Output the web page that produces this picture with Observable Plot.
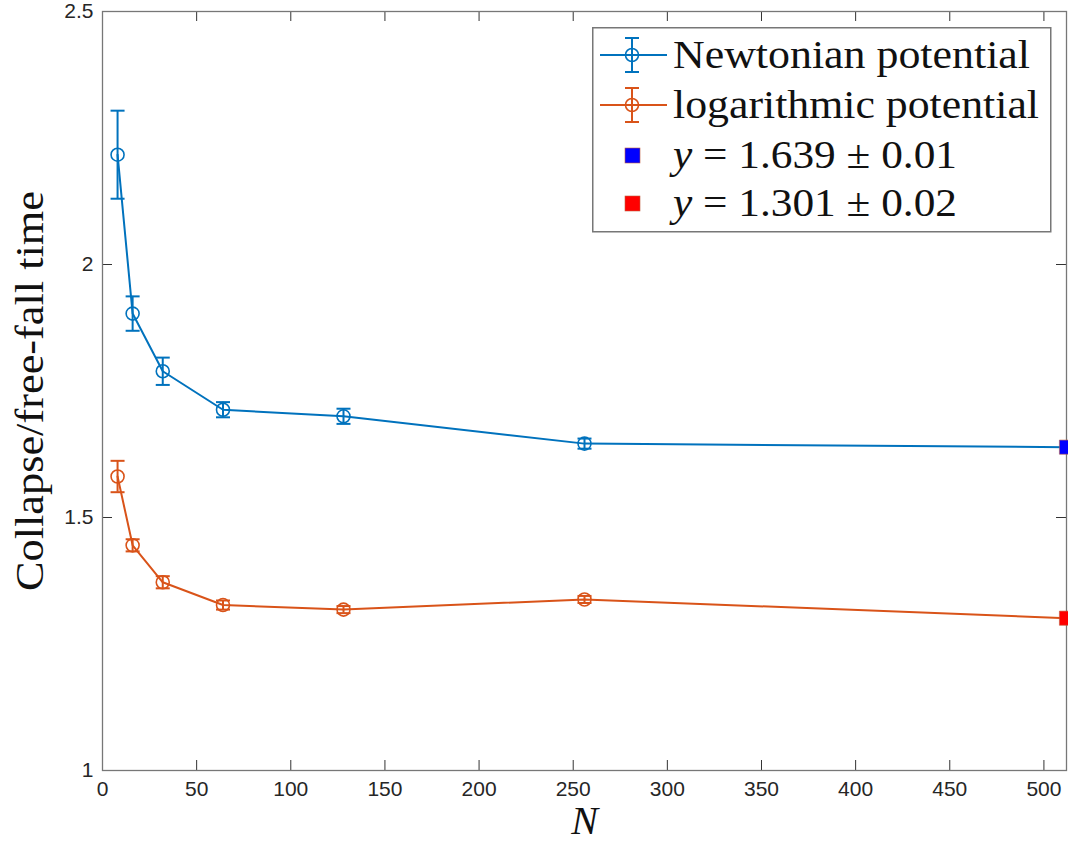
<!DOCTYPE html>
<html>
<head>
<meta charset="utf-8">
<script src="https://cdn.jsdelivr.net/npm/d3@7"></script>
<script src="https://cdn.jsdelivr.net/npm/@observablehq/plot@0.6"></script>
<style>
  html, body { margin: 0; padding: 0; background: #fff; }
  #wrap { position: relative; width: 1068px; height: 846px; }
  #legend { position: absolute; left: 592px; top: 27px; }
</style>
</head>
<body>
<div id="wrap"></div>
<script>
// ---- data ----
const N = [8, 16, 32, 64, 128, 256];
const newtonY = [2.217, 1.903, 1.789, 1.713, 1.700, 1.646];
const newtonErr = [0.087, 0.034, 0.027, 0.015, 0.015, 0.010];
const logY = [1.581, 1.445, 1.372, 1.327, 1.318, 1.338];
const logErr = [0.031, 0.012, 0.012, 0.009, 0.007, 0.007];
const limitN = 512;
const limitY = [1.639, 1.301];
const seriesNames = ["Newtonian potential", "logarithmic potential"];
const limitLabels = [["1.639", "0.01"], ["1.301", "0.02"]];
const xTicks = [0, 50, 100, 150, 200, 250, 300, 350, 400, 450, 500];
const yTicks = [1, 1.5, 2, 2.5];
const yLabel = "Collapse/free-fall time";
const xLabel = "N";

// ---- styles ----
const colors = ["#0072BD", "#D95319"];
const limitColors = ["#0000FF", "#FF0000"];
const W = 1068, H = 846;
const mL = 102, mR = 2, mT = 11, mB = 76;
const fw = W - mL - mR, fh = H - mT - mB;
const tickLen = 10;
const serif = "'Liberation Serif', 'Times New Roman', serif";

const rows = [];
N.forEach((n, i) => {
  rows.push({series: 0, N: n, y: newtonY[i], e: newtonErr[i]});
  rows.push({series: 1, N: n, y: logY[i], e: logErr[i]});
});
const lineRows = [
  ...N.map((n, i) => ({series: 0, N: n, y: newtonY[i]})), {series: 0, N: limitN, y: limitY[0]},
  ...N.map((n, i) => ({series: 1, N: n, y: logY[i]})), {series: 1, N: limitN, y: limitY[1]}
];
const limits = limitY.map((y, i) => ({series: i, N: limitN, y}));

const cap = {
  draw(ctx, size) {
    const r = Math.sqrt(size / Math.PI);
    ctx.moveTo(-r, 0); ctx.lineTo(r, 0);
  }
};

const chart = Plot.plot({
  width: W, height: H,
  marginLeft: mL, marginRight: mR, marginTop: mT, marginBottom: mB,
  style: {fontFamily: "'Liberation Sans', Arial, sans-serif", fontSize: "21px", color: "#262626", background: "#fff"},
  x: {domain: [0, 512]},
  y: {domain: [1, 2.5]},
  marks: [
    Plot.axisX({ticks: xTicks, tickSize: 0, tickPadding: 11, label: null, tickFormat: d => String(d), fontSize: 21}),
    Plot.axisY({ticks: yTicks, tickSize: 0, tickPadding: 9, label: null, tickFormat: d => String(d), fontSize: 21}),
    // inner ticks on all four sides
    Plot.tickX(xTicks, {x: d => d, insetTop: fh - tickLen, stroke: "#333", strokeWidth: 1}),
    Plot.tickX(xTicks, {x: d => d, insetBottom: fh - tickLen, stroke: "#333", strokeWidth: 1}),
    Plot.tickY(yTicks, {y: d => d, insetRight: fw - tickLen, stroke: "#333", strokeWidth: 1}),
    Plot.tickY(yTicks, {y: d => d, insetLeft: fw - tickLen, stroke: "#333", strokeWidth: 1}),
    Plot.frame({stroke: "#777", strokeWidth: 1.3}),
    // lines
    Plot.line(lineRows, {x: "N", y: "y", z: "series", stroke: d => colors[d.series], strokeWidth: 2}),
    // error bars
    Plot.ruleX(rows, {x: "N", y1: d => d.y - d.e, y2: d => d.y + d.e, stroke: d => colors[d.series], strokeWidth: 2}),
    Plot.dot(rows, {x: "N", y: d => d.y - d.e, symbol: cap, r: 7, stroke: d => colors[d.series], fill: "none", strokeWidth: 2}),
    Plot.dot(rows, {x: "N", y: d => d.y + d.e, symbol: cap, r: 7, stroke: d => colors[d.series], fill: "none", strokeWidth: 2}),
    Plot.dot(rows, {x: "N", y: "y", r: 6.5, stroke: d => colors[d.series], fill: "none", strokeWidth: 1.6}),
    // limit squares
    Plot.dot(limits, {x: "N", y: "y", symbol: "square", r: 8, fill: d => limitColors[d.series], stroke: "#c06040", strokeWidth: 0.6}),
    // axis titles
    Plot.text([yLabel], {text: d => d, frameAnchor: "left", dx: -72, rotate: -90, textAnchor: "middle", lineAnchor: "middle",
      fontFamily: serif, fontSize: 40, fill: "#111"}),
    Plot.text([xLabel], {text: d => d, frameAnchor: "bottom", dy: 51, textAnchor: "middle", lineAnchor: "middle",
      fontFamily: serif, fontSize: 40, fontStyle: "italic", fill: "#111"})
  ]
});
document.getElementById("wrap").appendChild(chart);

// stretch the y label to the reference width
d3.select(chart).selectAll("text").filter(function() { return this.textContent === yLabel; })
  .attr("textLength", 400).attr("lengthAdjust", "spacingAndGlyphs");

// ---- legend (overlay) ----
const lg = d3.select("#wrap").append("svg").attr("id", "legend")
  .attr("width", 460).attr("height", 206);
lg.append("rect").attr("x", 0.75).attr("y", 0.75).attr("width", 458).attr("height", 204)
  .attr("fill", "#fff").attr("stroke", "#777").attr("stroke-width", 1.5);
const rowY = [28, 78, 128, 176];
const textX = 81;
const nameWidths = [357, 366];
seriesNames.forEach((name, i) => {
  const g = lg.append("g").attr("transform", `translate(0,${rowY[i]})`);
  const c = colors[i];
  g.append("line").attr("x1", 8).attr("x2", 75).attr("y1", 0).attr("y2", 0).attr("stroke", c).attr("stroke-width", 2);
  g.append("line").attr("x1", 40).attr("x2", 40).attr("y1", -17).attr("y2", 17).attr("stroke", c).attr("stroke-width", 2);
  g.append("line").attr("x1", 33).attr("x2", 47).attr("y1", -17).attr("y2", -17).attr("stroke", c).attr("stroke-width", 2);
  g.append("line").attr("x1", 33).attr("x2", 47).attr("y1", 17).attr("y2", 17).attr("stroke", c).attr("stroke-width", 2);
  g.append("circle").attr("cx", 40).attr("cy", 0).attr("r", 6.5).attr("fill", "none").attr("stroke", c).attr("stroke-width", 1.6);
  g.append("text").attr("x", textX).attr("y", 13).attr("font-family", serif).attr("font-size", 40).attr("fill", "#111")
    .attr("textLength", nameWidths[i]).attr("lengthAdjust", "spacingAndGlyphs").text(name);
});
limitLabels.forEach((lab, i) => {
  const g = lg.append("g").attr("transform", `translate(0,${rowY[i + 2]})`);
  g.append("rect").attr("x", 33).attr("y", -7).attr("width", 15).attr("height", 15)
    .attr("fill", limitColors[i]).attr("stroke", "#c06040").attr("stroke-width", 0.6);
  const t = g.append("text").attr("x", textX).attr("y", 13).attr("font-family", serif).attr("font-size", 40).attr("fill", "#111")
    .attr("textLength", 284).attr("lengthAdjust", "spacingAndGlyphs");
  t.append("tspan").attr("font-style", "italic").text("y");
  t.append("tspan").text(" = " + lab[0] + " \u00B1 " + lab[1]);
});
</script>
</body>
</html>
